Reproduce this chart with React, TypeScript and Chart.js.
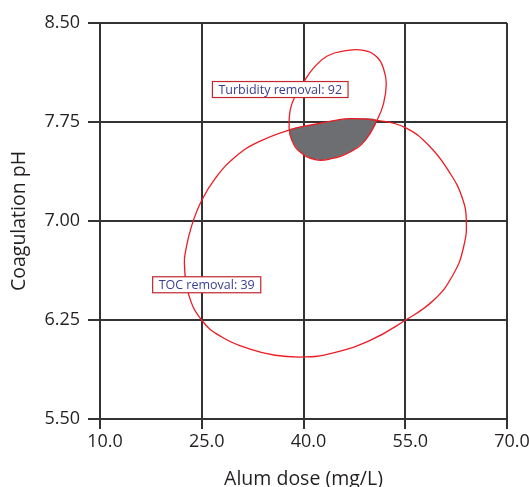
import React, { useEffect, useRef } from "react";
import { Chart, registerables } from "chart.js";
Chart.register(...registerables);

// Axis ticks
const xTicks = [10, 25, 40, 55, 70];
const yTicks = [5.5, 6.25, 7.0, 7.75, 8.5];

// TOC removal: 39 contour (closed curve)
const tocX = [22.44, 22.64, 23.53, 25.0, 26.97, 29.92, 33.36, 38.03, 41.72, 44.67, 46.88, 50.82, 55.0, 58.69, 61.64, 63.36, 64.0, 63.6, 62.13, 59.18, 55.0, 49.83, 43.93, 40.0, 35.82, 31.88, 27.95, 25.0, 23.03];
const tocY = [6.677, 6.778, 6.967, 7.157, 7.321, 7.485, 7.599, 7.692, 7.733, 7.763, 7.776, 7.763, 7.708, 7.561, 7.359, 7.182, 7.005, 6.803, 6.6, 6.399, 6.248, 6.096, 5.995, 5.97, 5.983, 6.033, 6.121, 6.248, 6.45];

// Turbidity removal: 92 contour (closed curve)
const turbX = [48.85, 50.82, 51.8, 52.2, 51.8, 50.82, 49.1, 46.88, 43.93, 41.72, 39.5, 38.28, 37.88, 38.03, 38.8, 40.0, 41.5, 43.5, 46.2];
const turbY = [8.293, 8.242, 8.154, 8.04, 7.889, 7.763, 7.611, 7.523, 7.47, 7.465, 7.523, 7.611, 7.712, 7.839, 7.95, 8.05, 8.16, 8.25, 8.29];

// Overlap (grey) region
const overlapX = [38.0, 38.28, 39.5, 41.72, 43.93, 46.88, 49.1, 50.75, 46.88, 44.67, 41.72];
const overlapY = [7.692, 7.611, 7.523, 7.465, 7.47, 7.523, 7.611, 7.764, 7.776, 7.763, 7.733];

// Labels
const labelTexts = ["Turbidity removal: 92", "TOC removal: 39"];
const labelX = [36.57, 25.73];
const labelY = [7.996, 6.517];

const FONT = '"Open Sans", "DejaVu Sans", sans-serif';
const GRID = "#333333";
const TEXT = "#231f20";

const toPts = (xs: number[], ys: number[]) => xs.map((x, i) => ({ x, y: ys[i] }));

// Make every drawn line a closed smooth loop
const closedLoopPlugin = {
  id: "closedLoops",
  afterDatasetsUpdate(chart: any) {
    chart.data.datasets.forEach((_d: any, i: number) => {
      const line = chart.getDatasetMeta(i).dataset;
      if (line) {
        line._loop = true;
        line._fullLoop = true;
        line._pointsUpdated = false;
        delete line._segments;
        delete line._path;
      }
    });
  },
};

const labelPlugin = {
  id: "boxLabels",
  afterDatasetsDraw(chart: any) {
    const { ctx, scales } = chart;
    const xs = scales.x;
    const ys = scales.y;
    ctx.save();
    ctx.font = `12.5px ${FONT}`;
    labelTexts.forEach((t, i) => {
      const cx = xs.getPixelForValue(labelX[i]);
      const cy = ys.getPixelForValue(labelY[i]);
      const w = ctx.measureText(t).width + 12;
      const h = 16;
      ctx.fillStyle = "#ffffff";
      ctx.fillRect(cx - w / 2, cy - h / 2, w, h);
      ctx.strokeStyle = "#c1272d";
      ctx.lineWidth = 1.2;
      ctx.strokeRect(cx - w / 2, cy - h / 2, w, h);
      ctx.fillStyle = "#3a3d90";
      ctx.textAlign = "center";
      ctx.textBaseline = "middle";
      ctx.fillText(t, cx, cy + 0.5);
    });
    ctx.restore();
  },
};

export default function App() {
  const ref = useRef<HTMLCanvasElement | null>(null);
  useEffect(() => {
    document.body.style.margin = "0";
    const canvas = ref.current;
    if (!canvas) return;
    const chart = new Chart(canvas, {
      type: "scatter",
      data: {
        datasets: [
          {
            data: toPts(turbX, turbY),
            showLine: true,
            borderColor: "#ed1c24",
            borderWidth: 1.3,
            pointRadius: 0,
            tension: 0.45,
            fill: false,
            order: 0,
          },
          {
            data: toPts(tocX, tocY),
            showLine: true,
            borderColor: "#ed1c24",
            borderWidth: 1.3,
            pointRadius: 0,
            tension: 0.45,
            fill: false,
            order: 1,
          },
          {
            data: toPts(overlapX, overlapY),
            showLine: true,
            borderColor: "rgba(0,0,0,0)",
            borderWidth: 0,
            backgroundColor: "#6d6e71",
            pointRadius: 0,
            tension: 0.25,
            fill: "shape",
            order: 2,
          },
        ] as any,
      },
      options: {
        animation: false,
        responsive: false,
        maintainAspectRatio: false,
        layout: { padding: { top: 23, right: 22, left: 0, bottom: 0 } },
        plugins: { legend: { display: false }, tooltip: { enabled: false } },
        scales: {
          x: {
            type: "linear",
            min: 10,
            max: 70,
            afterBuildTicks: (s: any) => {
              s.ticks = xTicks.map((v) => ({ value: v }));
            },
            afterFit: (s: any) => {
              s.height = 68;
            },
            ticks: {
              callback: (v: any) => Number(v).toFixed(1),
              font: { family: FONT, size: 18 },
              color: TEXT,
              padding: 2,
              labelOffset: 5,
              maxRotation: 0,
              autoSkip: false,
            },
            grid: { color: GRID, lineWidth: 2, tickLength: 10 },
            border: { color: GRID, width: 2 },
            title: {
              display: true,
              text: "Alum dose (mg/L)",
              font: { family: FONT, size: 19.5, lineHeight: 1 },
              color: TEXT,
              padding: { top: 0, bottom: -2 },
            },
          },
          y: {
            type: "linear",
            min: 5.5,
            max: 8.5,
            afterBuildTicks: (s: any) => {
              s.ticks = yTicks.map((v) => ({ value: v }));
            },
            afterFit: (s: any) => {
              s.width = 100;
            },
            ticks: {
              callback: (v: any) => Number(v).toFixed(2),
              font: { family: FONT, size: 18 },
              color: TEXT,
              padding: 8,
              autoSkip: false,
            },
            grid: { color: GRID, lineWidth: 2, tickLength: 12 },
            border: { color: GRID, width: 2 },
            title: {
              display: true,
              text: "Coagulation pH",
              font: { family: FONT, size: 19.5, lineHeight: 1 },
              color: TEXT,
              padding: { top: 10, bottom: 0 },
            },
          },
        },
      } as any,
      plugins: [closedLoopPlugin, labelPlugin],
    });
    return () => chart.destroy();
  }, []);
  return (
    <div style={{ width: 529, height: 487 }}>
      <canvas ref={ref} width={529} height={487} style={{ display: "block" }} />
    </div>
  );
}
